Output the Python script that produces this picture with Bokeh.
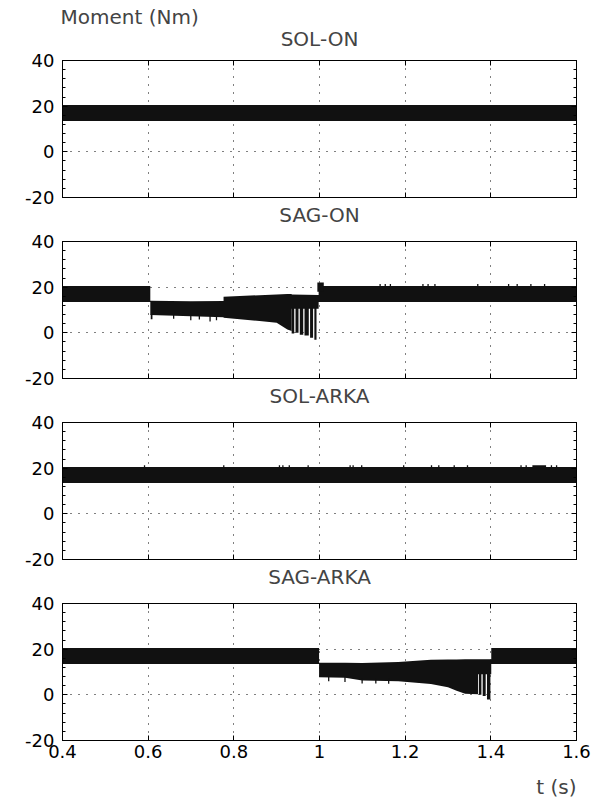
from bokeh.plotting import figure
from bokeh.layouts import column
from bokeh.models import Range1d, FixedTicker, LinearAxis, Title
from bokeh.embed import file_html
from bokeh.resources import INLINE

FONT = "DejaVu Sans"
INK = "#111111"
TICK_SIZE = "18px"
TITLE_SIZE = "20px"

panel_titles = ["SOL-ON", "SAG-ON", "SOL-ARKA", "SAG-ARKA"]
y_label = "Moment (Nm)"
x_label = "t (s)"
x_ticks = [0.4, 0.6, 0.8, 1.0, 1.2, 1.4, 1.6]
x_tick_labels = ["0.4", "0.6", "0.8", "1", "1.2", "1.4", "1.6"]
y_ticks = [-20, 0, 20, 40]
y_minor_ticks = [-20, -16, -12, -8, -4, 0, 4, 8, 12, 16, 20, 24, 28, 32, 36, 40]

# ---- SOL-ON : envelope of the oscillating torque ----
solon_t = [0.4, 1.6]
solon_hi = [20.5, 20.5]
solon_lo = [13.5, 13.5]
solon_blk_l = []
solon_blk_r = []
solon_blk_b = []
solon_blk_t = []

# ---- SAG-ON ----
sagon_t = [0.40, 0.605, 0.605, 0.70, 0.776, 0.776, 0.86, 0.90, 0.925, 0.935, 0.935, 0.998, 0.998, 1.60]
sagon_hi = [20.5, 20.5, 14.0, 13.8, 13.9, 15.8, 16.5, 16.8, 17.0, 17.0, 16.8, 16.6, 20.5, 20.5]
sagon_lo = [13.5, 13.5, 7.8, 7.3, 6.8, 6.6, 5.2, 4.4, 1.5, 0.8, 10.5, 10.5, 13.5, 13.5]
sagon_blk_l = [0.606, 0.658, 0.698, 0.718, 0.743, 0.758, 0.935, 0.944, 0.954, 0.965, 0.978, 0.988, 0.995,
               1.140, 1.152, 1.164, 1.240, 1.252, 1.268, 1.368, 1.440, 1.460, 1.492, 1.524]
sagon_blk_r = [0.610, 0.661, 0.701, 0.721, 0.746, 0.761, 0.941, 0.951, 0.962, 0.975, 0.985, 0.993, 1.010,
               1.143, 1.155, 1.167, 1.243, 1.255, 1.271, 1.371, 1.443, 1.463, 1.495, 1.527]
sagon_blk_b = [6.0, 6.2, 5.5, 5.8, 5.0, 5.5, -0.3, 0.0, -0.8, -1.2, -2.2, -3.0, 18.0,
               20.0, 20.0, 20.0, 20.0, 20.0, 20.0, 20.0, 20.0, 20.0, 20.0, 20.0]
sagon_blk_t = [8.0, 8.0, 8.0, 8.0, 8.0, 8.0, 11.0, 11.0, 11.0, 11.0, 11.0, 11.0, 22.0,
               21.4, 21.4, 21.4, 21.4, 21.4, 21.4, 21.4, 21.4, 21.4, 21.4, 21.4]

# ---- SOL-ARKA ----
solarka_t = [0.4, 1.6]
solarka_hi = [20.5, 20.5]
solarka_lo = [13.5, 13.5]
solarka_blk_l = [0.590, 0.775, 0.905, 0.913, 0.928, 0.972, 1.070, 1.077, 1.097, 1.195, 1.260, 1.277,
                 1.313, 1.344, 1.469, 1.481, 1.497, 1.540, 1.552]
solarka_blk_r = [0.593, 0.778, 0.908, 0.916, 0.931, 0.975, 1.073, 1.080, 1.100, 1.198, 1.263, 1.280,
                 1.316, 1.347, 1.472, 1.484, 1.529, 1.543, 1.555]
solarka_blk_b = [20.0] * 19
solarka_blk_t = [21.3] * 19

# ---- SAG-ARKA ----
sagarka_t = [0.40, 0.999, 0.999, 1.06, 1.10, 1.184, 1.26, 1.30, 1.32, 1.34, 1.37, 1.37, 1.401, 1.401, 1.60]
sagarka_hi = [20.5, 20.5, 14.1, 14.0, 13.9, 14.4, 15.4, 15.5, 15.5, 15.6, 15.6, 15.6, 15.6, 20.5, 20.5]
sagarka_lo = [13.5, 13.5, 7.7, 7.5, 6.3, 6.0, 4.7, 3.3, 1.8, 0.5, 0.3, 9.0, 9.0, 13.5, 13.5]
sagarka_blk_l = [1.020, 1.058, 1.098, 1.130, 1.160, 1.372, 1.381, 1.391]
sagarka_blk_r = [1.023, 1.061, 1.101, 1.133, 1.163, 1.378, 1.388, 1.399]
sagarka_blk_b = [6.0, 5.6, 5.0, 5.0, 4.8, 0.0, -0.5, -2.0]
sagarka_blk_t = [8.0, 8.0, 7.0, 7.0, 7.0, 10.0, 10.0, 10.0]

series = [
    (solon_t, solon_hi, solon_lo, solon_blk_l, solon_blk_r, solon_blk_b, solon_blk_t),
    (sagon_t, sagon_hi, sagon_lo, sagon_blk_l, sagon_blk_r, sagon_blk_b, sagon_blk_t),
    (solarka_t, solarka_hi, solarka_lo, solarka_blk_l, solarka_blk_r, solarka_blk_b, solarka_blk_t),
    (sagarka_t, sagarka_hi, sagarka_lo, sagarka_blk_l, sagarka_blk_r, sagarka_blk_b, sagarka_blk_t),
]


def style_axis(ax, ticks, minor=None, labels=None):
    ax.ticker = FixedTicker(ticks=ticks, minor_ticks=(minor or []))
    ax.axis_line_color = "black"
    ax.axis_line_width = 1
    ax.major_tick_line_color = "black"
    ax.minor_tick_line_color = "black"
    ax.major_tick_in = 5
    ax.major_tick_out = 0
    ax.minor_tick_in = 3
    ax.minor_tick_out = 0
    ax.major_label_text_font = FONT
    ax.major_label_text_color = "black"
    if labels is None:
        ax.major_label_overrides = {k: "" for k in ticks}
        ax.major_label_text_font_size = "1px"
        ax.major_label_standoff = 0
    else:
        ax.major_label_overrides = {k: v for k, v in zip(ticks, labels)}
        ax.major_label_text_font_size = TICK_SIZE
        ax.major_label_standoff = 4


def make_title(text, align, standoff, offset=0):
    return Title(text=text, align=align, text_font=FONT, text_font_size=TITLE_SIZE,
                 text_font_style="normal", standoff=standoff, offset=offset)


panels = []
n = len(series)
for i, (t, hi, lo, bl, br, bb, bt) in enumerate(series):
    first = i == 0
    last = i == n - 1
    kw = dict(title=y_label, title_location="above") if first else dict(title_location=None)
    p = figure(frame_width=514, frame_height=137,
               min_border_left=62, min_border_right=25,
               min_border_top=60 if first else 11,
               min_border_bottom=64 if last else 33,
               x_range=Range1d(0.4, 1.6), y_range=Range1d(-20, 40),
               output_backend="svg", toolbar_location=None, **kw)
    bottom_ax = p.below[0]
    left_ax = p.left[0]
    p.background_fill_color = "white"
    p.border_fill_color = "white"
    p.outline_line_color = "black"
    p.outline_line_width = 1
    if first:
        p.title.text_font = FONT
        p.title.text_font_size = TITLE_SIZE
        p.title.text_font_style = "normal"
        p.title.align = "left"
        p.title.offset = -2
        p.title.standoff = -26

    # top axis (ticks only)
    top_ax = LinearAxis()
    style_axis(top_ax, x_ticks)
    p.add_layout(top_ax, "above")
    # right axis (ticks only)
    right_ax = LinearAxis()
    style_axis(right_ax, y_ticks, y_minor_ticks)
    p.add_layout(right_ax, "right")

    style_axis(bottom_ax, x_ticks, labels=(x_tick_labels if last else None))
    style_axis(left_ax, y_ticks, y_minor_ticks, labels=[str(v) for v in y_ticks])
    left_ax.major_label_standoff = 8

    # the first panel's own title sits above it; every later panel's title
    # is placed in the gap under the panel before it
    if first:
        p.add_layout(make_title(panel_titles[0], "center", 19), "above")
    if not last:
        p.add_layout(make_title(panel_titles[i + 1], "center", 7), "below")
    else:
        p.add_layout(make_title(x_label, "right", 24, offset=0), "below")

    for g, ticks in ((p.xgrid[0], x_ticks), (p.ygrid[0], y_ticks)):
        g.ticker = FixedTicker(ticks=ticks)
        g.grid_line_color = "black"
        g.grid_line_dash = "1 7"
        g.grid_line_width = 1

    p.varea(x=t, y1=lo, y2=hi, fill_color=INK)
    if bl:
        p.quad(left=bl, right=br, bottom=bb, top=bt, fill_color=INK, line_color=None)

    panels.append(p)

layout = column(*panels, spacing=0)
open("out.html", "w").write(file_html(layout, INLINE))
